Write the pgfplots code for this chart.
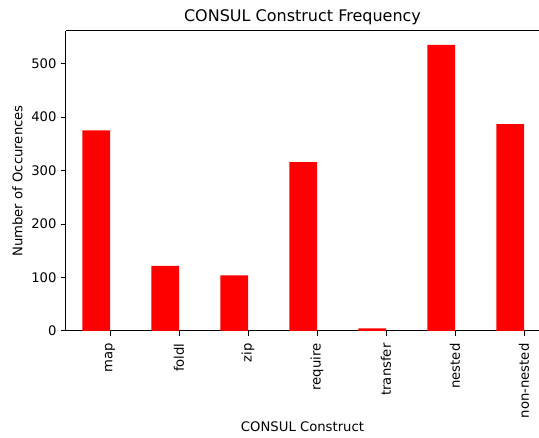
\documentclass[border=0pt]{standalone}
\usepackage{fontspec}
\setmainfont{DejaVu Sans}
\usepackage{pgfplots}
\pgfplotsset{compat=1.18}
\begin{document}
\begin{tikzpicture}
\begin{axis}[
  at={(0pt,0pt)}, anchor=south west,
  scale only axis,
  width=473pt, height=300pt,
  xmin=-0.638, xmax=6.217,
  ymin=0, ymax=561,
  axis x line=box, axis y line=left,
  axis line style={line width=1pt, -},
  ybar, bar width=0.4, bar shift=-0.2,
  xtick={0,1,2,3,4,5,6},
  xticklabels={map,foldl,zip,require,transfer,nested,non-nested},
  ytick={0,100,200,300,400,500},
  tick align=outside,
  major tick length=5pt,
  tick style={line width=1pt, black},
  xtick pos=bottom, ytick pos=left,
  /pgf/number format/assume math mode=true,
  ticklabel style={font=\fontsize{13.2}{15}\selectfont},
  xticklabel style={yshift=-4pt, rotate=90, anchor=east},
  yticklabel style={xshift=-1pt},
  xlabel={CONSUL Construct},
  ylabel={Number of Occurences},
  label style={font=\fontsize{13.2}{15}\selectfont},
  x label style={at={(axis description cs:0.5,-0.32)}, anchor=center},
  y label style={at={(axis description cs:-0.1025,0.5)}, anchor=center, rotate=0},
  title={CONSUL Construct Frequency},
  title style={font=\fontsize{16}{19}\selectfont, at={(axis description cs:0.5,1.01)}, anchor=base},
]
\addplot[fill=red, draw=none] coordinates {(0,375) (1,122) (2,104) (3,316) (4,5) (5,535) (6,387)};
\end{axis}
\pgfresetboundingbox
\useasboundingbox (-66pt,-107pt) rectangle (473pt,331pt);
\end{tikzpicture}
\end{document}
